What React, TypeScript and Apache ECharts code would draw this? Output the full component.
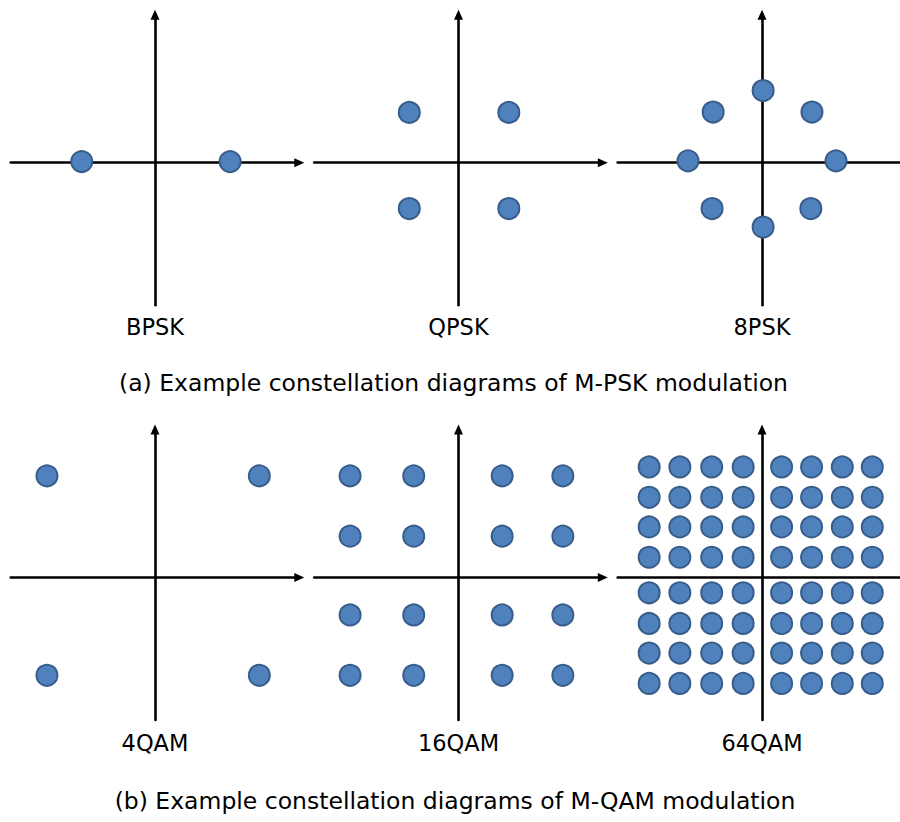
import React, { useEffect, useRef } from "react";
import * as echarts from "echarts";

// Constellation points (I, Q), in common axis units
const bpskI = [-1.98, 2.03];
const bpskQ = [0.03, 0.03];

const qpskI = [-1.33, 1.36, -1.33, 1.36];
const qpskQ = [1.36, 1.36, -1.24, -1.24];

const psk8I = [0.03, -1.32, 1.35, -2.0, 2.0, -1.35, 1.32, 0.03];
const psk8Q = [1.95, 1.37, 1.37, 0.05, 0.05, -1.24, -1.24, -1.74];

const qam4Levels = { i: [-2.92, 2.82], q: [2.75, -2.64] };
const qam16Levels = { i: [-2.93, -1.21, 1.18, 2.82], q: [2.75, 1.12, -1.01, -2.64] };
const qam64Levels = {
  i: [-3.05, -2.22, -1.36, -0.51, 0.53, 1.34, 2.17, 2.98],
  q: [2.99, 2.17, 1.37, 0.55, -0.41, -1.24, -2.04, -2.86],
};

const panelLabels = ["BPSK", "QPSK", "8PSK", "4QAM", "16QAM", "64QAM"];
const captions = [
  "(a) Example constellation diagrams of M-PSK modulation",
  "(b) Example constellation diagrams of M-QAM modulation",
];

const xRange = [-3.9, 3.9];
const xRangeRight = [-3.9, 3.72]; // right-hand panels run off the page edge
const yRange = [-3.85, 4];

function pairs(I: number[], Q: number[]) {
  return I.map((v, k) => [v, Q[k]]);
}
function gridPoints(levels: { i: number[]; q: number[] }) {
  const out: number[][] = [];
  levels.q.forEach((q) => levels.i.forEach((i) => out.push([i, q])));
  return out;
}

export default function App() {
  const ref = useRef<HTMLDivElement>(null);
  useEffect(() => {
    if (!ref.current) return;
    const chart = echarts.init(ref.current, null, { renderer: "svg" });
    const unit = 37;
    const centersX = [155, 458.5, 762];
    const centersY = [162.7, 577.6];
    const panels: { cx: number; cy: number; right: boolean }[] = [];
    centersY.forEach((cy) => centersX.forEach((cx, j) => panels.push({ cx, cy, right: j === 2 })));

    const grids = panels.map((p) => {
      const xr = p.right ? xRangeRight : xRange;
      return {
        left: p.cx + xr[0] * unit,
        top: p.cy - yRange[1] * unit,
        width: (xr[1] - xr[0]) * unit,
        height: (yRange[1] - yRange[0]) * unit,
        containLabel: false,
      };
    });
    const mkLine = (arrow: boolean) => ({
      show: true,
      onZero: true,
      symbol: ["none", arrow ? "triangle" : "none"],
      symbolSize: [9, 10],
      lineStyle: { color: "#000", width: 2.6 },
    });
    const xAxes = panels.map((p, k) => {
      const xr = p.right ? xRangeRight : xRange;
      return {
        type: "value",
        gridIndex: k,
        min: xr[0],
        max: xr[1],
        axisLine: mkLine(!p.right),
        axisTick: { show: false },
        axisLabel: { show: false },
        splitLine: { show: false },
      };
    });
    const yAxes = panels.map((_, k) => ({
      type: "value",
      gridIndex: k,
      min: yRange[0],
      max: yRange[1],
      axisLine: mkLine(true),
      axisTick: { show: false },
      axisLabel: { show: false },
      splitLine: { show: false },
    }));
    const datasets = [
      pairs(bpskI, bpskQ),
      pairs(qpskI, qpskQ),
      pairs(psk8I, psk8Q),
      gridPoints(qam4Levels),
      gridPoints(qam16Levels),
      gridPoints(qam64Levels),
    ];
    const series = datasets.map((d, k) => ({
      type: "scatter",
      xAxisIndex: k,
      yAxisIndex: k,
      data: d,
      symbol: "circle",
      symbolSize: 21,
      itemStyle: { color: "#4f81bd", borderColor: "#385d8a", borderWidth: 2, opacity: 1 },
      z: 5,
    }));
    const textStyleBase = { fill: "#000", fontFamily: "DejaVu Sans", textAlign: "center", textVerticalAlign: "middle" };
    const labelY = [327, 743];
    const graphic: any[] = panels.map((p, k) => ({
      type: "text",
      x: p.cx,
      y: labelY[k < 3 ? 0 : 1],
      style: { ...textStyleBase, text: panelLabels[k], fontSize: 22.5 },
    }));
    graphic.push({
      type: "text",
      x: 453.5,
      y: 383,
      style: { ...textStyleBase, text: captions[0], fontSize: 23.5 },
    });
    graphic.push({
      type: "text",
      x: 455,
      y: 801,
      style: { ...textStyleBase, text: captions[1], fontSize: 23.5 },
    });

    chart.setOption({
      animation: false,
      backgroundColor: "#fff",
      grid: grids,
      xAxis: xAxes,
      yAxis: yAxes,
      series,
      graphic,
    } as any);
    return () => chart.dispose();
  }, []);
  return (
    <div
      ref={ref}
      style={{ position: "fixed", left: 0, top: 0, width: 900, height: 822 }}
    />
  );
}
